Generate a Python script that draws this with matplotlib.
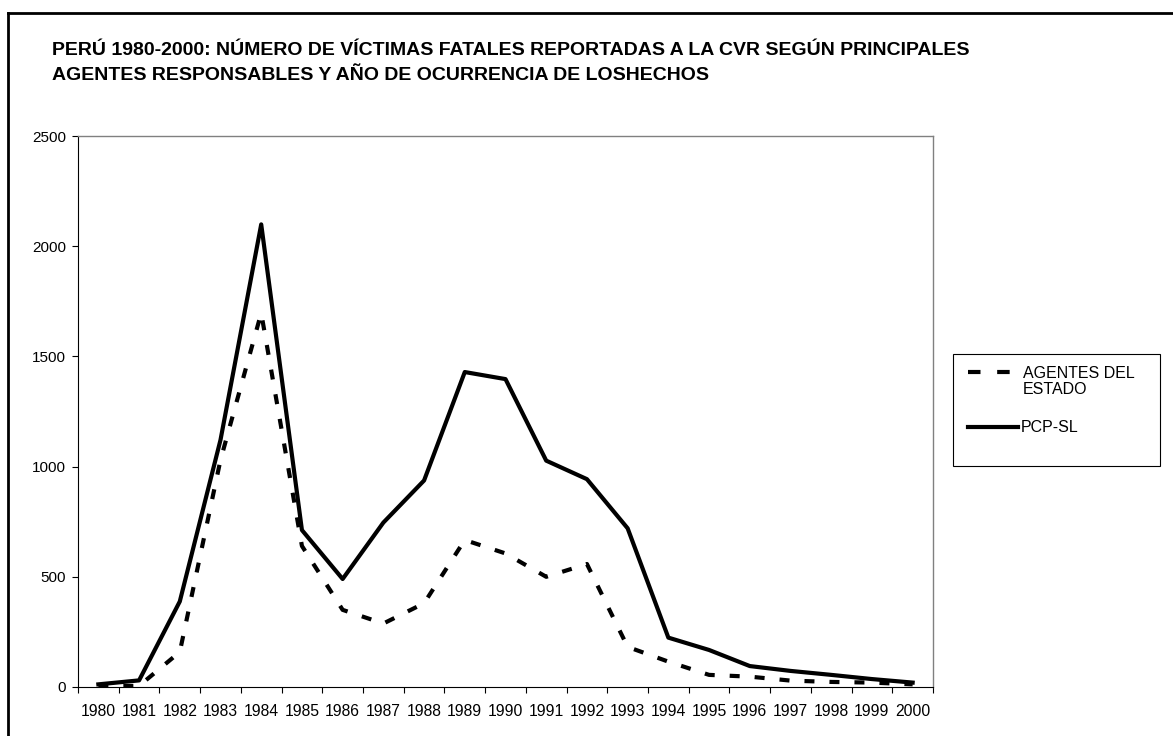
import numpy as np
import matplotlib
matplotlib.use("Agg")
import matplotlib.pyplot as plt
from matplotlib.lines import Line2D
from matplotlib.patches import Rectangle

# datos
years = [str(y) for y in range(1980, 2001)]
pcp_sl = [12, 30, 388, 1121, 2099, 712, 490, 746, 937, 1429, 1397,
          1027, 943, 720, 224, 168, 95, 73, 55, 36, 20]
agentes = [3, 5, 159, 1030, 1697, 640, 350, 288, 380, 667, 606,
           500, 558, 182, 115, 55, 47, 29, 23, 20, 12]
yticks = [0, 500, 1000, 1500, 2000, 2500]
labels = ["AGENTES DEL\nESTADO", "PCP-SL"]

plt.rcParams['font.family'] = ['Liberation Sans', 'DejaVu Sans']

W, H = 1173, 736
fig = plt.figure(figsize=(W / 100, H / 100), dpi=100)

def fx(px):
    return px / W

def fy(py):
    return 1 - py / H

ax = fig.add_axes([fx(78), fy(687), fx(933) - fx(78), fy(136) - fy(687)])

x = np.arange(len(years))
ax.plot(x, agentes, color='black', lw=3, linestyle=(0, (2.4, 3.6)))
ax.plot(x, pcp_sl, color='black', lw=3)

ax.set_xlim(-0.5, len(years) - 0.5)
ax.set_ylim(0, 2500)
ax.set_yticks(yticks)
ax.set_xticks(x)
ax.set_xticklabels(years)
ax.set_xticks(np.arange(len(years) + 1) - 0.5, minor=True)
ax.tick_params(axis='x', which='major', length=0, pad=12, labelsize=11.3)
ax.tick_params(axis='x', which='minor', length=4, width=0.8, direction='out')
ax.tick_params(axis='y', length=4.5, width=0.8, pad=4, labelsize=11)

for s in ['left', 'bottom']:
    ax.spines[s].set_color('black')
    ax.spines[s].set_linewidth(0.8)
for s in ['top', 'right']:
    ax.spines[s].set_color('#808080')
    ax.spines[s].set_linewidth(1.0)

# titulo
fig.text(fx(52), fy(55), "PERÚ 1980-2000: NÚMERO DE VÍCTIMAS FATALES REPORTADAS A LA CVR SEGÚN PRINCIPALES",
         fontsize=14, fontweight='bold', va='baseline', ha='left')
fig.text(fx(52), fy(80), "AGENTES RESPONSABLES Y AÑO DE OCURRENCIA DE LOSHECHOS",
         fontsize=14, fontweight='bold', va='baseline', ha='left')

# leyenda
fig.add_artist(Rectangle((fx(953), fy(466)), fx(1160) - fx(953), fy(354) - fy(466),
                         transform=fig.transFigure, fill=False, edgecolor='black', lw=0.8))
fig.add_artist(Line2D([fx(968), fx(1012)], [fy(372), fy(372)], transform=fig.transFigure,
                      color='black', lw=3, linestyle=(0, (3, 4))))
fig.add_artist(Line2D([fx(968), fx(1018)], [fy(427), fy(427)], transform=fig.transFigure,
                      color='black', lw=3))
fig.text(fx(1023), fy(366), labels[0], fontsize=11.5, va='top', ha='left', linespacing=1.1)
fig.text(fx(1021), fy(427), labels[1], fontsize=11.5, va='center', ha='left')

# marco exterior
fig.add_artist(Line2D([fx(8), fx(8)], [fy(13), 0], transform=fig.transFigure, color='black', lw=2))
fig.add_artist(Line2D([fx(8), 1], [fy(13), fy(13)], transform=fig.transFigure, color='black', lw=2))

fig.savefig('out.png', dpi=100)
